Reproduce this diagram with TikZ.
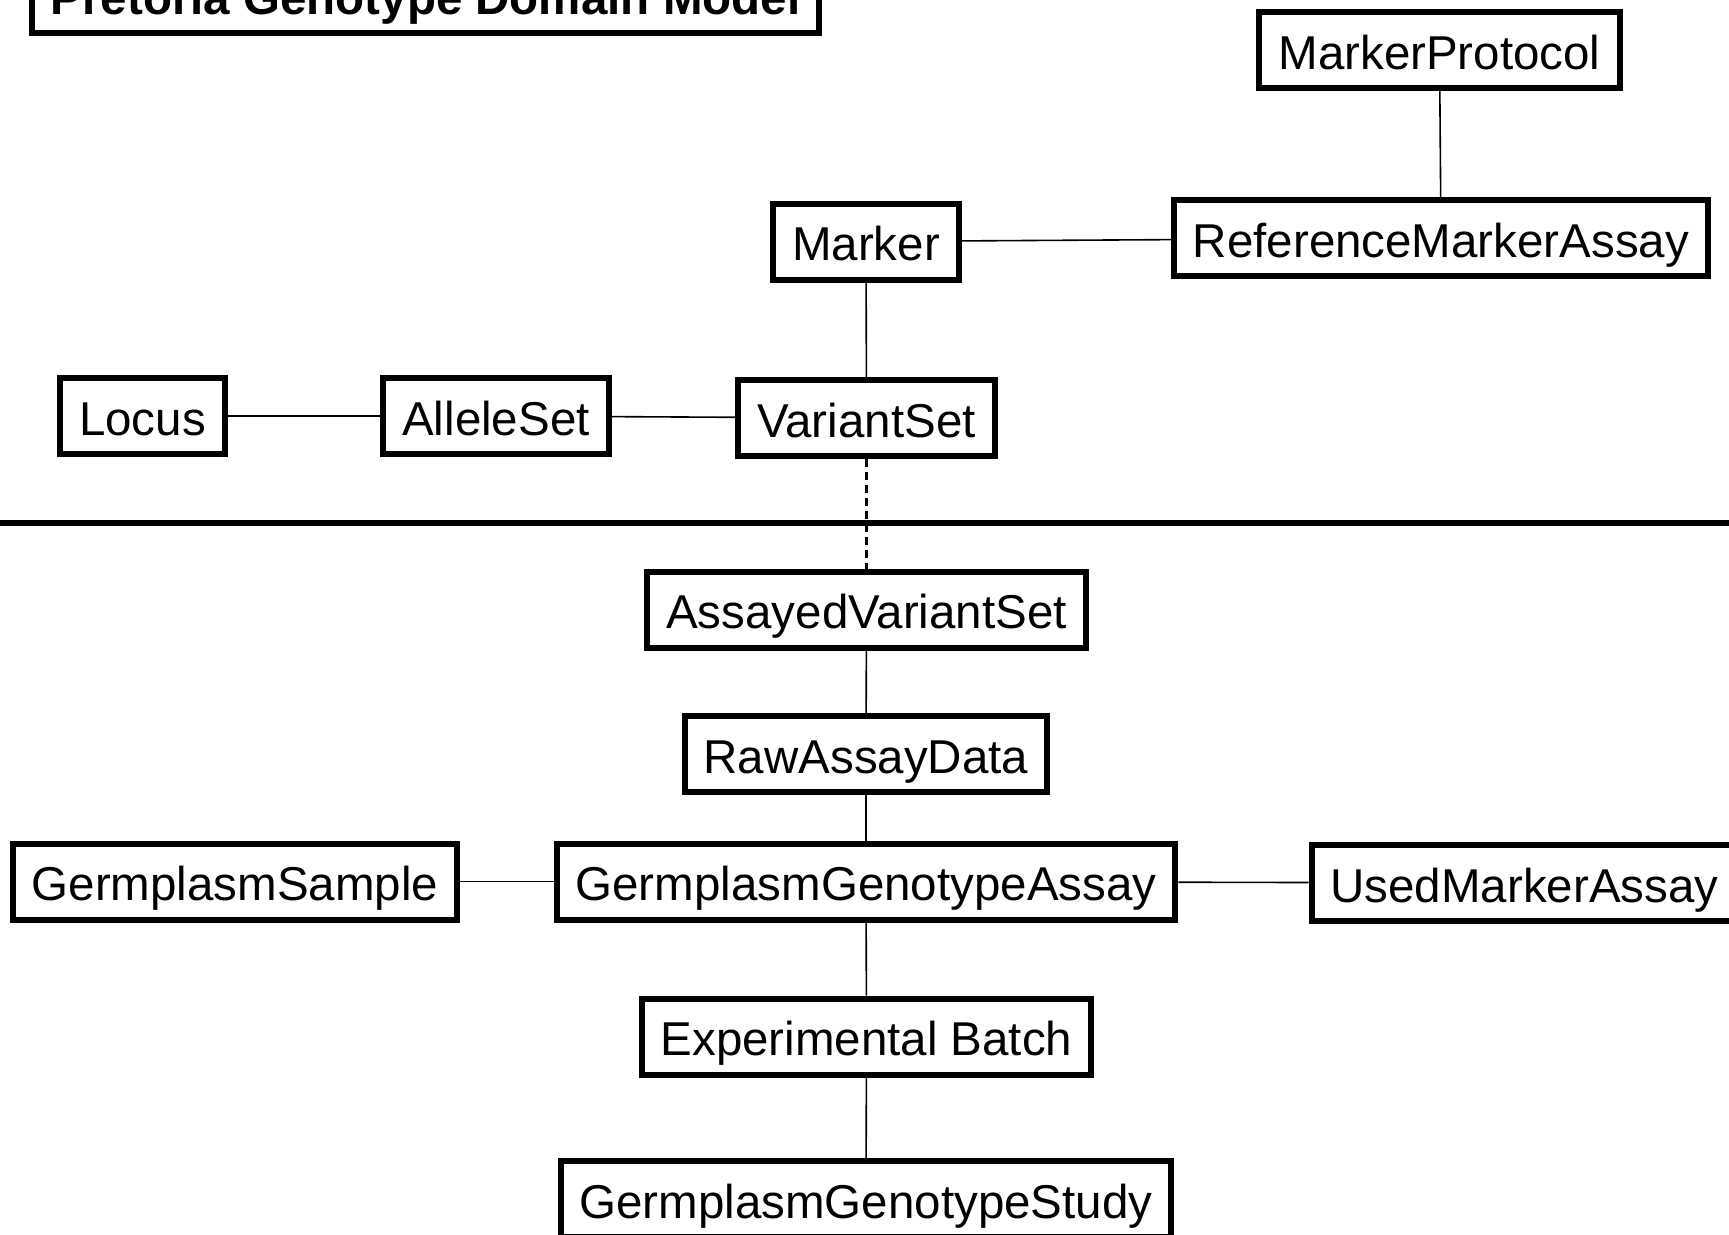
\documentclass[tikz,border=0pt]{standalone}
\usepackage{fontspec}
\setmainfont{Liberation Sans}
\usepackage{tikz}

\begin{document}
\begin{tikzpicture}[x=1pt, y=-1pt,
  main/.style = {draw, rectangle, line width=6pt, inner xsep=19pt, inner ysep=0pt,
    minimum height=76pt, text height=38pt, text depth=0pt,
    font=\fontsize{47.5}{57}\selectfont},
  title/.style = {main, font=\fontsize{47.5}{57}\selectfont\bfseries},
  link/.style = {line width=1.6pt}]
  \clip (0,0) rectangle (1729,1234);
  \node[title] (t) at (425.5,-5) {Pretoria Genotype Domain Model};
  \node[main] (protocol) at (1439.5,50) {MarkerProtocol};
  \node[main] (refassay) at (1441,238) {ReferenceMarkerAssay};
  \node[main] (marker) at (866,241.5) {Marker};
  \node[main] (locus) at (142.5,416) {Locus};
  \node[main] (allele) at (496,416) {AlleleSet};
  \node[main] (variant) at (866.5,418) {VariantSet};
  \node[main] (assayed) at (866.5,609.5) {AssayedVariantSet};
  \node[main] (raw) at (866,754) {RawAssayData};
  \node[main] (sample) at (235,881.5) {GermplasmSample};
  \node[main] (assay) at (866,881.5) {GermplasmGenotypeAssay};
  \node[main] (used) at (1524.5,883) {UsedMarkerAssay};
  \node[main] (batch) at (866.5,1036.5) {Experimental Batch};
  \node[main] (study) at (866,1199) {GermplasmGenotypeStudy};
  \coordinate (sepl) at (0,523);
  \coordinate (sepr) at (1729,523);
  \draw[line width=5.5pt] (sepl) -- (sepr);
  \draw[link] (protocol) -- (refassay);
  \draw[link] (marker) -- (refassay);
  \draw[link] (marker) -- (variant);
  \draw[link] (locus) -- (allele);
  \draw[link] (allele) -- (variant);
  \draw[line width=3pt, dash pattern=on 8pt off 5pt] (variant) -- (assayed);
  \draw[link] (assayed) -- (raw);
  \draw[link] (raw) -- (assay);
  \draw[link] (sample) -- (assay);
  \draw[link] (assay) -- (used);
  \draw[link] (assay) -- (batch);
  \draw[link] (batch) -- (study);
\end{tikzpicture}
\end{document}
